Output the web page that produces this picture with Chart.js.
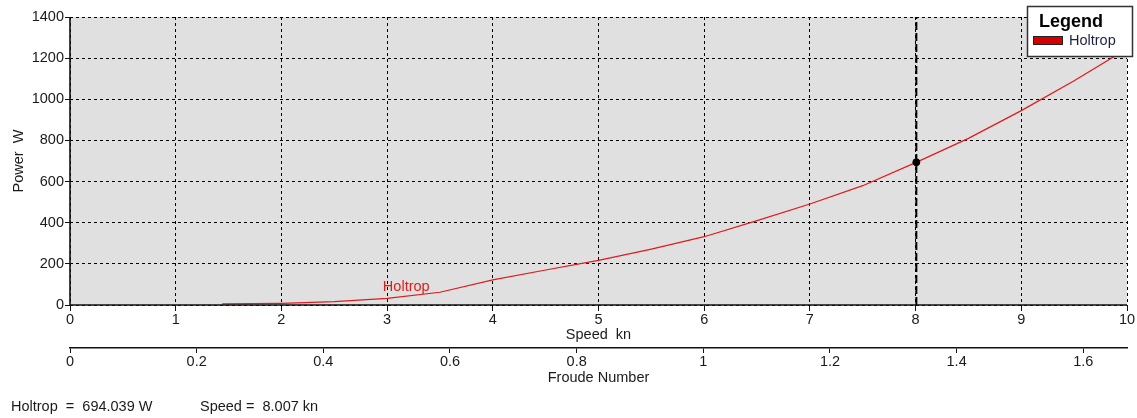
<!DOCTYPE html>
<html>
<head>
<meta charset="utf-8">
<title>Holtrop power curve</title>
<script src="https://cdn.jsdelivr.net/npm/chart.js@4/dist/chart.umd.min.js"></script>
<style>
  html, body { margin: 0; padding: 0; background: #fff; }
  #wrap { width: 1137px; height: 418px; }
</style>
</head>
<body>
<div id="wrap"><canvas id="powerChart" width="1137" height="418"></canvas></div>
<script>
/* ---- data ---- */
const speedKn  = [1.44, 2, 2.5, 3, 3.5, 4, 4.5, 5, 5.5, 6, 6.5, 7, 7.5, 8, 8.5, 9, 9.5, 10];
const powerW   = [5, 8, 16, 32, 62, 122, 170, 217, 272, 332, 410, 491, 580, 692, 810, 945, 1090, 1245];
const speedTicks  = [0, 1, 2, 3, 4, 5, 6, 7, 8, 9, 10];
const powerTicks  = [0, 200, 400, 600, 800, 1000, 1200, 1400];
const froudeTicks = [0, 0.2, 0.4, 0.6, 0.8, 1, 1.2, 1.4, 1.6];
const froudeAtMax = 1.669;            // Froude number at 10 kn
const cursorSpeed = 8.007;
const cursorPower = 694.039;
const seriesName  = "Holtrop";
const curveLabelAt = { x: 2.96, y: 87 };   // where the series name sits on the plot

const FONT = "'Liberation Sans', Arial, sans-serif";
const TXT  = "#1a1a1a";
const RED  = "#e01a1a";

// ---- plot background ----
const plotBg = {
  id: "plotBg",
  beforeDraw(chart) {
    const { ctx, chartArea: a } = chart;
    ctx.save();
    ctx.fillStyle = "#e0e0e0";
    ctx.fillRect(a.left, a.top, a.right - a.left, a.bottom - a.top);
    ctx.restore();
  }
};

// ---- solid axis lines, curve name, legend box and readout ----
const extras = {
  id: "extras",
  afterDraw(chart) {
    const { ctx, chartArea: a } = chart;
    const sx = chart.scales.x, sy = chart.scales.y;
    ctx.save();

    // left and bottom axis lines
    ctx.strokeStyle = "#111";
    ctx.lineWidth = 1.6;
    ctx.beginPath();
    ctx.moveTo(a.left, a.top);
    ctx.lineTo(a.left, a.bottom);
    ctx.lineTo(a.right, a.bottom);
    ctx.stroke();

    // series name on the curve
    ctx.font = "14.5px " + FONT;
    ctx.fillStyle = RED;
    ctx.textBaseline = "middle";
    ctx.textAlign = "left";
    ctx.fillText(seriesName, sx.getPixelForValue(curveLabelAt.x), sy.getPixelForValue(curveLabelAt.y));

    // legend
    ctx.fillStyle = "#fff";
    ctx.fillRect(1027, 6, 106, 51);
    ctx.strokeStyle = "#333";
    ctx.lineWidth = 1.5;
    ctx.strokeRect(1027.5, 6.5, 105, 50);
    ctx.font = "bold 18px " + FONT;
    ctx.fillStyle = "#000";
    ctx.fillText("Legend", 1039, 22);
    ctx.fillStyle = "#d40000";
    ctx.fillRect(1033, 36, 30, 9);
    ctx.strokeStyle = "#222";
    ctx.lineWidth = 1;
    ctx.strokeRect(1033.5, 36.5, 29, 8);
    ctx.font = "14.5px " + FONT;
    ctx.fillStyle = "#1c2040";
    ctx.fillText(seriesName, 1069, 41);

    // readout
    ctx.fillStyle = TXT;
    ctx.fillText(seriesName + "  =  " + cursorPower.toFixed(3) + " W", 11, 407);
    ctx.fillText("Speed =  " + cursorSpeed.toFixed(3) + " kn", 200, 407);
    ctx.restore();
  }
};

const tickFont = { family: FONT, size: 14.5 };

new Chart(document.getElementById("powerChart"), {
  type: "scatter",
  data: {
    datasets: [
      {
        label: seriesName,
        data: speedKn.map((v, i) => ({ x: v, y: powerW[i] })),
        showLine: true,
        borderColor: RED,
        borderWidth: 1.2,
        pointRadius: 0,
        tension: 0,
        order: 2
      },
      {
        label: "cursor",
        data: [{ x: cursorSpeed, y: 0 }, { x: cursorSpeed, y: 1400 }],
        showLine: true,
        borderColor: "#000",
        borderWidth: 2,
        borderDash: [8, 3],
        pointRadius: 0,
        order: 1
      },
      {
        label: "point",
        data: [{ x: cursorSpeed, y: cursorPower }],
        pointRadius: 3.5,
        pointBackgroundColor: "#000",
        pointBorderColor: "#000",
        order: 0
      }
    ]
  },
  options: {
    responsive: false,
    animation: false,
    events: [],
    layout: { padding: { top: 17, right: 10, bottom: 30, left: 0 } },
    plugins: { legend: { display: false }, tooltip: { enabled: false } },
    scales: {
      x: {
        type: "linear",
        position: "bottom",
        weight: 0,
        min: 0, max: 10,
        afterBuildTicks: s => { s.ticks = speedTicks.map(v => ({ value: v })); },
        afterFit: s => { s.height = 43; },
        ticks: { color: TXT, font: tickFont, padding: 0, maxRotation: 0, autoSkip: false,
                 callback: v => String(v) },
        grid: { color: "#000", lineWidth: 1, tickLength: 6, tickColor: "#111" },
        border: { display: false, dash: [3, 3] },
        title: { display: true, text: "Speed  kn", color: TXT, font: tickFont, padding: { top: 0, bottom: 4 } }
      },
      froude: {
        type: "linear",
        position: "bottom",
        weight: 1,
        min: 0, max: froudeAtMax,
        afterBuildTicks: s => { s.ticks = froudeTicks.map(v => ({ value: v })); },
        afterFit: s => { s.height = 40; },
        ticks: { color: TXT, font: tickFont, padding: 0, maxRotation: 0, autoSkip: false,
                 callback: v => String(+v.toFixed(1)) },
        grid: { drawOnChartArea: false, tickLength: 5, color: "#111" },
        border: { color: "#111", width: 1.5 },
        title: { display: true, text: "Froude Number", color: TXT, font: tickFont, padding: { top: 0, bottom: 1 } }
      },
      y: {
        type: "linear",
        position: "left",
        min: 0, max: 1400,
        afterBuildTicks: s => { s.ticks = powerTicks.map(v => ({ value: v })); },
        afterFit: s => { s.width = 70; },
        ticks: { color: TXT, font: tickFont, padding: 1, callback: v => String(v) },
        grid: { color: "#000", lineWidth: 1, tickLength: 5, tickColor: "#111" },
        border: { display: false, dash: [3, 3] },
        title: { display: true, text: "Power  W", color: TXT, font: tickFont, padding: { top: 10, bottom: 0 } }
      }
    }
  },
  plugins: [plotBg, extras]
});
</script>
</body>
</html>
